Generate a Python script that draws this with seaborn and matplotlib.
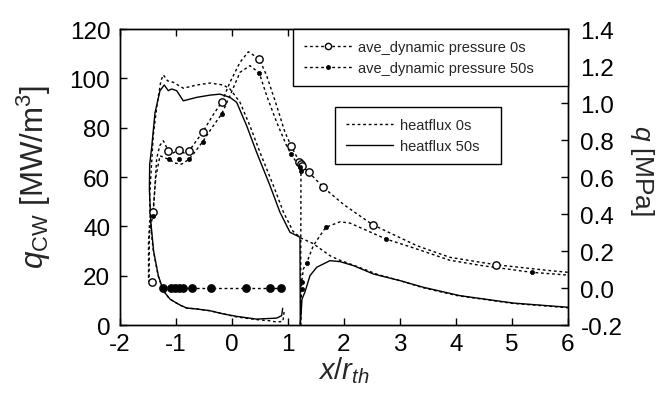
import pandas as pd
import seaborn as sns
import matplotlib.pyplot as plt
from matplotlib.lines import Line2D

# -------------------------
# heat flux (left axis, MW/m^3)
# -------------------------
hf0_x = [0.93, 0.91, 0.80, 0.68, 0.44, 0.08, -0.15, -0.39, -0.63, -0.81, -0.93, -1.11, -1.23,
         -1.32, -1.41, -1.46, -1.47, -1.45, -1.405, -1.334, -1.27, -1.226, -1.15, -1.048, -0.869,
         -0.63, -0.393, -0.155, -0.036, 0.143, 0.32, 0.50, 0.74, 0.92, 1.09, 1.23, 1.45, 1.75,
         1.9, 2.2, 2.6, 3.0, 3.4, 4.0, 5.0, 6.0]
hf0_y = [5.3, 1.5, 1.2, 1.7, 2.2, 3.3, 4.5, 5.8, 6.5, 6.9, 8.1, 10.5, 14,
         20, 31, 42, 52, 60, 77, 90, 99, 101.4, 99, 98.4, 96,
         97.3, 98.1, 97.3, 95.7, 90.3, 80.8, 70, 56.5, 45.7, 38, 35.3, 33.0, 28.1,
         26.5, 24, 20.5, 18, 15.2, 12, 8.8, 7.0]

hf50_x = [0.905, 0.887, 0.798, 0.44, 0.083, -0.155, -0.393, -0.63, -0.81, -0.929, -1.107, -1.226,
          -1.315, -1.40, -1.45, -1.475, -1.47, -1.434, -1.375, -1.286, -1.209, -1.137, -1.077,
          -0.988, -0.869, -0.63, -0.393, -0.214, -0.036, 0.083, 0.262, 0.44, 0.679, 0.857, 1.036,
          1.214, 1.22, 1.235, 1.25, 1.30, 1.393, 1.512, 1.75, 1.929, 2.167, 2.524, 3.0, 3.417,
          4.071, 5.024, 6.0]
hf50_y = [6.8, 3.8, 2.8, 2.4, 3.5, 4.5, 5.8, 6.5, 6.9, 8.1, 10.5, 13.9,
          20, 30, 42, 55, 65, 72, 86, 95, 97.3, 95, 95.7,
          95, 90.9, 92.3, 93.2, 93.6, 92.3, 90.3, 80.8, 70.0, 56.5, 45.7, 37.6,
          35.6, 0.3, 5, 10.5, 13.2, 20, 23.4, 26.1, 25.7, 24.1, 20.7, 18.0, 15.3,
          11.9, 8.9, 7.2]

# -------------------------
# dynamic pressure (right axis, MPa)
# -------------------------
dp0_line_x = [-1.434, -1.49, -1.49, -1.47, -1.405, -1.345, -1.29, -1.226, -1.137, -1.05, -0.946,
              -0.86, -0.762, -0.65, -0.524, -0.35, -0.185, -0.036, 0.143, 0.292, 0.488, 0.619,
              0.798, 0.946, 1.054, 1.202, 1.244, 1.375, 1.631, 2.0, 2.512, 3.30, 3.89, 4.708,
              5.68, 6.0]
dp0_line_y = [0.031, 0.05, 0.25, 0.36, 0.409, 0.70, 0.77, 0.796, 0.742, 0.73, 0.748,
              0.73, 0.742, 0.79, 0.842, 0.93, 1.004, 1.112, 1.22, 1.277, 1.238, 1.148,
              0.985, 0.842, 0.769, 0.683, 0.661, 0.625, 0.544, 0.45, 0.342, 0.229, 0.166, 0.126,
              0.094, 0.085]
dp0_mark_x = [-1.434, -1.405, -1.137, -0.946, -0.762, -0.524, -0.185, 0.488, 1.054, 1.202,
              1.225, 1.244, 1.375, 1.631, 2.512, 4.708]
dp0_mark_y = [0.031, 0.409, 0.742, 0.748, 0.742, 0.842, 1.004, 1.238, 0.769, 0.683,
              0.672, 0.661, 0.625, 0.544, 0.342, 0.126]

dp50_line_x = [-1.48, -1.475, -1.417, -1.36, -1.286, -1.167, -1.125, -1.02, -0.898, -0.762,
               -0.65, -0.524, -0.35, -0.185, -0.036, 0.143, 0.321, 0.488, 0.619, 0.798, 0.976,
               1.054, 1.214, 1.232, 1.225, 1.24, 1.245, 1.274, 1.333, 1.452, 1.673, 1.93, 2.107,
               2.75, 3.30, 3.89, 4.49, 5.35, 6.0]
dp50_line_y = [0.03, 0.3, 0.388, 0.6, 0.715, 0.70, 0.697, 0.675, 0.67, 0.697,
               0.74, 0.791, 0.87, 0.94, 1.04, 1.166, 1.202, 1.162, 1.04, 0.896, 0.769,
               0.724, 0.652, 0.634, -0.21, -0.005, 0.031, 0.103, 0.135, 0.229, 0.328, 0.358, 0.351,
               0.265, 0.211, 0.15, 0.12, 0.085, 0.07]
dp50_mark_x = [-1.417, -1.125, -0.94, -0.762, -0.524, -0.185, 0.488, 1.054, 1.214, 1.232,
               1.245, 1.245, 1.333, 1.673, 2.75, 5.35]
dp50_mark_y = [0.388, 0.697, 0.697, 0.697, 0.791, 0.94, 1.162, 0.724, 0.652, 0.634,
               0.031, -0.005, 0.135, 0.328, 0.265, 0.085]

# both runs have the flat row of points at 0 MPa
row_x = [-1.238, -1.096, -1.018, -0.946, -0.881, -0.720, -0.381, 0.244, 0.679, 0.869]
row_y = [0.0, 0.0, 0.0, 0.0, 0.0, 0.0, 0.0, 0.0, 0.0, 0.0]

x_ticks = [-2, -1, 0, 1, 2, 3, 4, 5, 6]
left_ticks = [0, 20, 40, 60, 80, 100, 120]
right_ticks = [-0.2, 0.0, 0.2, 0.4, 0.6, 0.8, 1.0, 1.2, 1.4]

sns.set_style("ticks")
plt.rcParams["font.family"] = ["Liberation Sans", "DejaVu Sans"]
plt.rcParams["mathtext.fontset"] = "custom"
plt.rcParams["mathtext.rm"] = "Liberation Sans"
plt.rcParams["mathtext.it"] = "Liberation Sans:italic"
plt.rcParams["axes.unicode_minus"] = False
plt.rcParams["axes.edgecolor"] = "black"
plt.rcParams["axes.linewidth"] = 1.0

dot = (0, (2, 2))

fig = plt.figure(figsize=(6.64, 4.02), dpi=100)
ax = fig.add_axes([0.1807, 0.189, 0.6747, 0.7363])
ax2 = ax.twinx()

# heat flux
sns.lineplot(x=hf0_x, y=hf0_y, sort=False, estimator=None, ax=ax, color="black", lw=1, linestyle=dot)
sns.lineplot(x=hf50_x, y=hf50_y, sort=False, estimator=None, ax=ax, color="black", lw=1)

# dynamic pressure
sns.lineplot(x=dp0_line_x, y=dp0_line_y, sort=False, estimator=None, ax=ax2, color="black", lw=1, linestyle=dot)
sns.lineplot(x=dp50_line_x, y=dp50_line_y, sort=False, estimator=None, ax=ax2, color="black", lw=1, linestyle=dot)
sns.lineplot(x=row_x, y=row_y, sort=False, estimator=None, ax=ax2, color="black", lw=1, linestyle=dot)
sns.scatterplot(x=dp0_mark_x + row_x, y=dp0_mark_y + row_y, ax=ax2, marker="o", s=28,
                color="white", edgecolor="black", linewidth=1, zorder=4)
sns.scatterplot(x=dp50_mark_x, y=dp50_mark_y, ax=ax2, marker="o", s=9,
                color="black", edgecolor="black", linewidth=0.5, zorder=5)
sns.scatterplot(x=row_x, y=row_y, ax=ax2, marker="o", s=22,
                color="black", edgecolor="black", linewidth=0.5, zorder=5)

ax.set_xlim(-2, 6)
ax.set_ylim(0, 120)
ax2.set_ylim(-0.2, 1.4)
ax.set_xticks(x_ticks)
ax.set_yticks(left_ticks)
ax2.set_yticks(right_ticks)
ax2.set_yticklabels([f"{t:.1f}" for t in right_ticks])

ax.tick_params(direction="in", top=True, length=5, width=1, labelsize=17.5, colors="black")
ax.tick_params(axis="x", pad=5.5)
ax.tick_params(axis="y", pad=7)
ax2.tick_params(direction="in", length=5, width=1, labelsize=17.5, pad=9, colors="black")
for sp in ax2.spines.values():
    sp.set_color("black")

ax.set_xlabel(r"$x/r_{th}$", fontsize=21, labelpad=0)
ax.set_ylabel(r"$q_{\mathrm{CW}}$ [MW/m$^{3}$]", fontsize=22.5)
ax.yaxis.set_label_coords(-0.15, 0.505)
ax2.set_ylabel(r"$q$ [MPa]", fontsize=19, rotation=270, va="bottom")
ax2.yaxis.set_label_coords(1.134, 0.527)

h_dp = [Line2D([], [], color="black", lw=1, linestyle=dot, marker="o", ms=4.5,
               markerfacecolor="white", markeredgecolor="black", markeredgewidth=1),
        Line2D([], [], color="black", lw=1, linestyle=dot, marker="o", ms=2.5,
               markerfacecolor="black", markeredgecolor="black")]
leg1 = ax2.legend(h_dp, ["ave_dynamic pressure 0s", "ave_dynamic pressure 50s"],
                  loc="upper left", bbox_to_anchor=(0.386, 0.0, 0.614, 1.0), mode="expand",
                  borderaxespad=0, fontsize=10.5, handlelength=3.3, handletextpad=0.4,
                  fancybox=False, framealpha=1, edgecolor="black", borderpad=0.75,
                  labelspacing=0.5)
leg1.get_frame().set_linewidth(1)
ax2.add_artist(leg1)

h_hf = [Line2D([], [], color="black", lw=1, linestyle=dot),
        Line2D([], [], color="black", lw=1)]
leg2 = ax2.legend(h_hf, ["heatflux 0s", "heatflux 50s"],
                  loc="upper left", bbox_to_anchor=(0.48, 0.0, 0.37, 0.736), mode="expand",
                  borderaxespad=0, fontsize=10.5, handlelength=3.2, handletextpad=0.5,
                  fancybox=False, framealpha=1, edgecolor="black", borderpad=0.75,
                  labelspacing=0.5)
leg2.get_frame().set_linewidth(1)

fig.savefig("out.png", dpi=100)
